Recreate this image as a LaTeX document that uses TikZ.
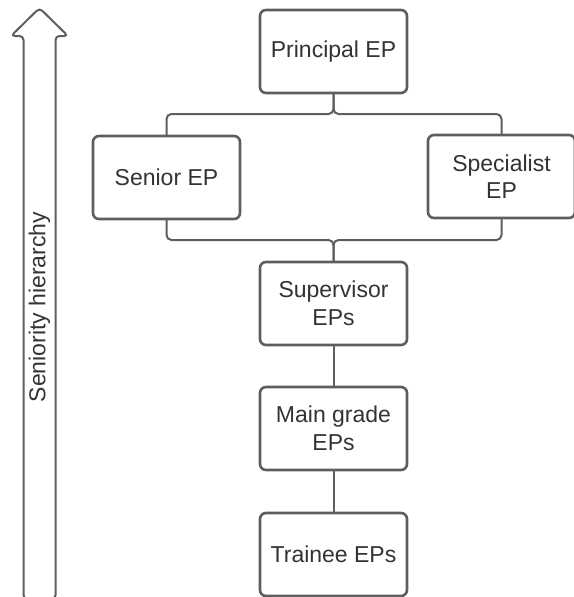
\documentclass[tikz,border=0pt]{standalone}
\usepackage{fontspec}
\setmainfont{Liberation Sans}
\usepackage{tikz}
\usetikzlibrary{positioning}
\definecolor{edgegray}{HTML}{5E5E5E}
\definecolor{textgray}{HTML}{333333}

\begin{document}
\begin{tikzpicture} [x=1pt, y=-1pt, node distance=42pt,
                    grade/.style={draw=edgegray, line width=2.6pt, rounded corners=6pt, fill=white,
                      minimum width=147pt, minimum height=83pt, inner sep=0pt, outer sep=0pt,
                      align=center, text=textgray, font=\fontsize{23}{27.5}\selectfont},
                    link/.style={draw=edgegray, line width=2pt, rounded corners=5pt}]

\useasboundingbox (0,0) rectangle (573,597);

% seniority arrow
\draw[edgegray, line width=2pt, rounded corners=4pt, fill=white]
    (23.5,599) -- (23.5,36) -- (11,36) -- (39.5,8) -- (68,36) -- (55.5,36) -- (55.5,599) -- cycle;
\node[rotate=90, text=textgray, font=\fontsize{23}{27.5}\selectfont] (LAB) at (39.5,307) {Seniority hierarchy};

\node[grade] (P) at (333.5,51.5) {Principal EP};
\node[grade] (SE) [below left=43pt and 20pt of P] {Senior EP};
\node[grade] (SP) [below right=42pt and 21pt of P] {Specialist\\EP};
\coordinate (MID) at (P |- SE.south);
\node[grade] (SU) [below=43pt of MID] {Supervisor\\EPs};
\node[grade] (MG) [below=of SU] {Main grade\\EPs};
\node[grade] (TR) [below=43pt of MG] {Trainee EPs};
\coordinate[below=21pt of P] (FORK);
\coordinate[above=22pt of SU] (JOIN);

\draw[link] (P) -- (FORK) -| (SE);
\draw[link] (P) -- (FORK) -| (SP);
\draw[link] (SE) |- (JOIN) -- (SU);
\draw[link] (SP) |- (JOIN) -- (SU);
\draw[link] (SU) -- (MG);
\draw[link] (MG) -- (TR);
\end{tikzpicture}
\end{document}
